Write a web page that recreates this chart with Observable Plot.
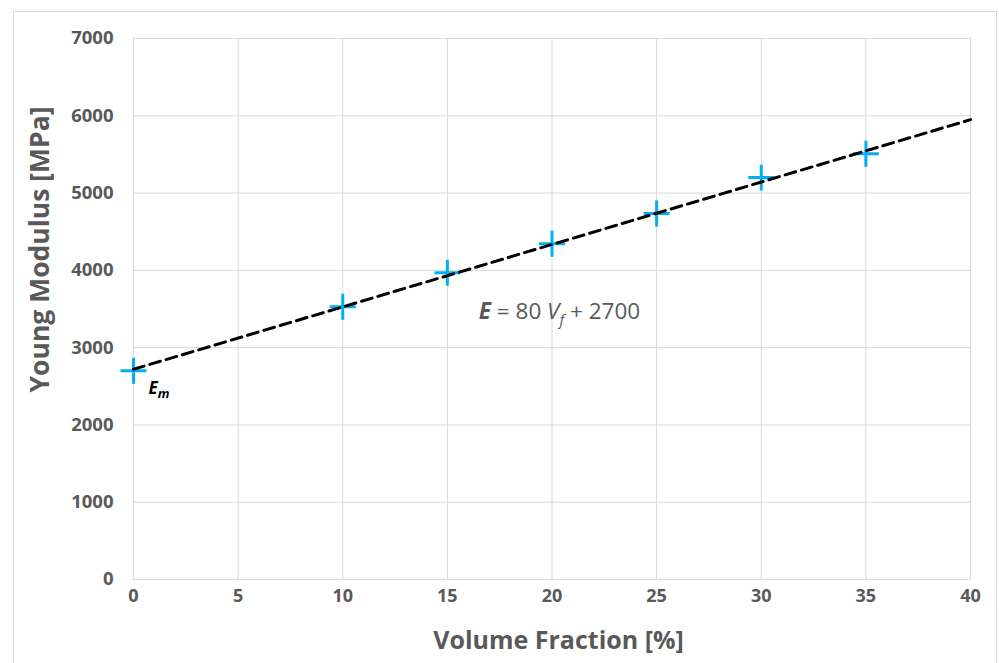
<!DOCTYPE html>
<html>
<head>
<meta charset="utf-8">
<script src="https://cdn.jsdelivr.net/npm/d3@7"></script>
<script src="https://cdn.jsdelivr.net/npm/@observablehq/plot@0.6"></script>
<style>
  html, body { margin: 0; padding: 0; background: #fff; }
  #wrap { position: relative; width: 999px; height: 663px; overflow: hidden; }
  #border { position: absolute; left: 13px; top: 11px; width: 984px; height: 670px; border: 1px solid #d9d9d9; box-sizing: border-box; pointer-events: none; }
</style>
</head>
<body>
<div id="wrap"><div id="border"></div></div>
<script>
// Data
const volumeFraction = [0, 10, 15, 20, 25, 30, 35];
const youngModulus = [2700, 3530, 3970, 4345, 4735, 5200, 5510];
const trendX = [0, 40];
const trendY = [2720, 5950];
const xTicks = [0, 5, 10, 15, 20, 25, 30, 35, 40];
const yTicks = [0, 1000, 2000, 3000, 4000, 5000, 6000, 7000];
const equationText = "E = 80 Vf + 2700";
const xTitle = "Volume Fraction [%]";
const yTitle = "Young Modulus [MPa]";

const points = volumeFraction.map((v, i) => ({x: v, y: youngModulus[i]}));
const trend = trendX.map((v, i) => ({x: v, y: trendY[i]}));

const gray = "#595959";
const grid = "#d9d9d9";

const chart = Plot.plot({
  width: 999,
  height: 663,
  marginLeft: 133,
  marginRight: 29,
  marginTop: 38,
  marginBottom: 84,
  x: {domain: [0, 40]},
  y: {domain: [0, 7000]},
  style: {fontFamily: "'Open Sans', sans-serif", background: "transparent", overflow: "visible"},
  marks: [
    Plot.gridX(xTicks, {stroke: grid, strokeOpacity: 1, strokeWidth: 1}),
    Plot.gridY(yTicks, {stroke: grid, strokeOpacity: 1, strokeWidth: 1}),
    Plot.axisX(xTicks, {tickSize: 0, tickPadding: 10, fontSize: 18, fontWeight: "bold", fill: gray, label: null, tickFormat: d => String(d)}),
    Plot.axisY(yTicks, {tickSize: 0, tickPadding: 20, fontSize: 18.5, fontWeight: "bold", fill: gray, label: null, tickFormat: d => String(d)}),
    Plot.text([{x: 20.31, y: -800, t: xTitle}], {x: "x", y: "y", text: "t", fontSize: 25, fontWeight: "bold", fill: gray}),
    Plot.text([{x: -4.44, y: 4270, t: yTitle}], {x: "x", y: "y", text: "t", rotate: -90, fontSize: 26.5, fontWeight: "bold", fill: gray}),
    Plot.dot(points, {x: "x", y: "y", symbol: "plus", r: 8.4, stroke: "#00b0f0", strokeWidth: 3}),
    Plot.line(trend, {x: "x", y: "y", stroke: "#000", strokeWidth: 3, strokeDasharray: "11,6"}),
    Plot.text([{x: 16.5, y: 3460, t: equationText}], {x: "x", y: "y", text: "t", textAnchor: "start", fontSize: 22.5, fill: gray, className: "eqn"}),
    Plot.text([{x: 0, y: 2700, t: "Em"}], {x: "x", y: "y", text: "t", textAnchor: "start", dx: 15, dy: 18, fontSize: 17, fill: "#000", className: "em"})
  ]
});

document.getElementById("wrap").appendChild(chart);

// Rich formatting for the equation and E_m label
d3.select(chart).selectAll(".eqn text").each(function() {
  const t = d3.select(this);
  t.text(null);
  t.append("tspan").attr("font-weight", "bold").attr("font-style", "italic").text("E");
  t.append("tspan").text(" = 80 ");
  t.append("tspan").attr("font-style", "italic").text("V");
  t.append("tspan").attr("font-style", "italic").attr("font-size", 15).attr("dy", 6).text("f");
  t.append("tspan").attr("dy", -6).text(" + 2700");
});
d3.select(chart).selectAll(".em text").each(function() {
  const t = d3.select(this);
  t.text(null);
  t.append("tspan").attr("font-weight", "bold").attr("font-style", "italic").text("E");
  t.append("tspan").attr("font-weight", "bold").attr("font-style", "italic").attr("font-size", 13).attr("dy", 4).text("m");
});
chart.style.position = "absolute";
chart.style.left = "0";
chart.style.top = "0";
</script>
</body>
</html>
